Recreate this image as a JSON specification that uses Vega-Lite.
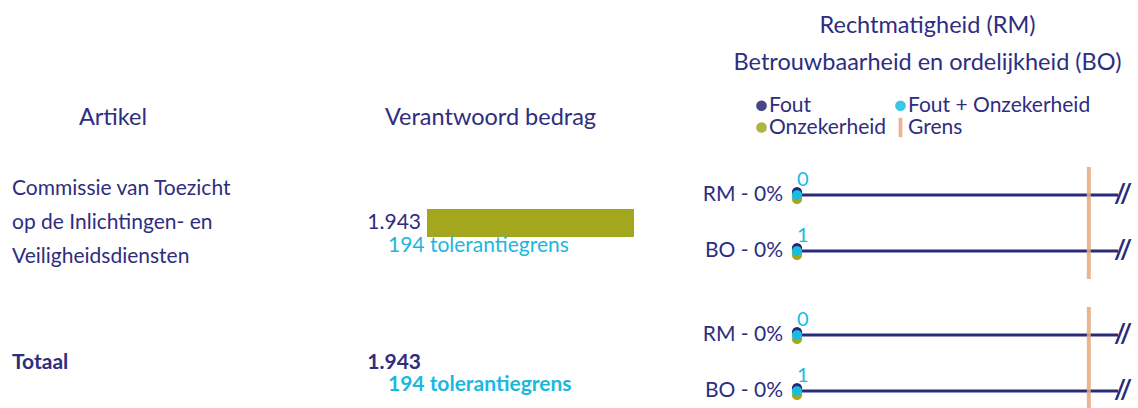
{
  "$schema": "https://vega.github.io/schema/vega-lite/v6.json",
  "background": "white",
  "padding": {"left": 12, "top": 13, "right": 0, "bottom": 0},
  "config": {
    "font": "Lato",
    "view": {"stroke": null},
    "locale": {"number": {"decimal": ",", "thousands": ".", "grouping": [3], "currency": ["€", ""]}},
    "title": {"fontSize": 23.5, "fontWeight": "normal", "color": "#2E2D80", "anchor": "middle"}
  },
  "datasets": {
    "artikelen": [
      {"groep": "Commissie van Toezicht op de Inlichtingen- en Veiligheidsdiensten", "regel": 1, "tekst": "Commissie van Toezicht", "totaal": false},
      {"groep": "Commissie van Toezicht op de Inlichtingen- en Veiligheidsdiensten", "regel": 2, "tekst": "op de Inlichtingen- en", "totaal": false},
      {"groep": "Commissie van Toezicht op de Inlichtingen- en Veiligheidsdiensten", "regel": 3, "tekst": "Veiligheidsdiensten", "totaal": false},
      {"groep": "Totaal", "regel": 2, "tekst": "Totaal", "totaal": true}
    ],
    "bedragen": [
      {"groep": "Commissie van Toezicht op de Inlichtingen- en Veiligheidsdiensten", "bedrag": 1943, "tolerantie": 194, "totaal": false},
      {"groep": "Totaal", "bedrag": 1943, "tolerantie": 194, "totaal": true}
    ],
    "oordelen": [
      {"groep": "Commissie van Toezicht op de Inlichtingen- en Veiligheidsdiensten", "oordeel": "RM", "label": "RM - 0%", "bedrag": 0},
      {"groep": "Commissie van Toezicht op de Inlichtingen- en Veiligheidsdiensten", "oordeel": "BO", "label": "BO - 0%", "bedrag": 1},
      {"groep": "Totaal", "oordeel": "RM", "label": "RM - 0%", "bedrag": 0},
      {"groep": "Totaal", "oordeel": "BO", "label": "BO - 0%", "bedrag": 1}
    ],
    "punten": [
      {"groep": "Commissie van Toezicht op de Inlichtingen- en Veiligheidsdiensten", "oordeel": "RM", "type": "Fout", "waarde": 0},
      {"groep": "Commissie van Toezicht op de Inlichtingen- en Veiligheidsdiensten", "oordeel": "RM", "type": "Onzekerheid", "waarde": 0},
      {"groep": "Commissie van Toezicht op de Inlichtingen- en Veiligheidsdiensten", "oordeel": "RM", "type": "Fout + Onzekerheid", "waarde": 0},
      {"groep": "Commissie van Toezicht op de Inlichtingen- en Veiligheidsdiensten", "oordeel": "BO", "type": "Fout", "waarde": 0},
      {"groep": "Commissie van Toezicht op de Inlichtingen- en Veiligheidsdiensten", "oordeel": "BO", "type": "Onzekerheid", "waarde": 0},
      {"groep": "Commissie van Toezicht op de Inlichtingen- en Veiligheidsdiensten", "oordeel": "BO", "type": "Fout + Onzekerheid", "waarde": 0},
      {"groep": "Totaal", "oordeel": "RM", "type": "Fout", "waarde": 0},
      {"groep": "Totaal", "oordeel": "RM", "type": "Onzekerheid", "waarde": 0},
      {"groep": "Totaal", "oordeel": "RM", "type": "Fout + Onzekerheid", "waarde": 0},
      {"groep": "Totaal", "oordeel": "BO", "type": "Fout", "waarde": 0},
      {"groep": "Totaal", "oordeel": "BO", "type": "Onzekerheid", "waarde": 0},
      {"groep": "Totaal", "oordeel": "BO", "type": "Fout + Onzekerheid", "waarde": 0}
    ],
    "grenzen": [
      {"groep": "Commissie van Toezicht op de Inlichtingen- en Veiligheidsdiensten", "type": "Grens", "grens": 10},
      {"groep": "Totaal", "type": "Grens", "grens": 10}
    ]
  },
  "spacing": 163,
  "bounds": "flush",
  "resolve": {
    "scale": {"color": "independent", "shape": "independent"},
    "legend": {"color": "independent", "shape": "independent"}
  },
  "hconcat": [
    {
      "width": 252,
      "height": 257,
      "title": {"text": "Artikel", "dx": -25, "offset": 24},
      "data": {"name": "artikelen"},
      "encoding": {
        "y": {"field": "groep", "type": "nominal", "axis": null, "sort": null,
              "scale": {"domain": ["Commissie van Toezicht op de Inlichtingen- en Veiligheidsdiensten", "Totaal"], "range": [0, 280], "paddingInner": 0, "paddingOuter": 0}},
        "yOffset": {"field": "regel", "type": "ordinal", "scale": {"type": "point", "domain": [1, 2, 3], "range": [36, 104], "padding": 0}},
        "x": {"value": 0},
        "text": {"field": "tekst"}
      },
      "layer": [
        {"transform": [{"filter": "!datum.totaal"}],
         "mark": {"type": "text", "align": "left", "baseline": "middle", "fontSize": 21, "color": "#2E2D80"}},
        {"transform": [{"filter": "datum.totaal"}],
         "mark": {"type": "text", "align": "left", "baseline": "middle", "fontSize": 21, "fontWeight": "bold", "color": "#2E2D80"}}
      ]
    },
    {
      "width": 207,
      "height": 257,
      "title": {"text": "Verantwoord bedrag", "dx": -40, "offset": 24},
      "data": {"name": "bedragen"},
      "transform": [{"calculate": "format(datum.tolerantie, ',d') + ' tolerantiegrens'", "as": "tolerantieTekst"}],
      "encoding": {
        "y": {"field": "groep", "type": "nominal", "axis": null, "sort": null,
              "scale": {"domain": ["Commissie van Toezicht op de Inlichtingen- en Veiligheidsdiensten", "Totaal"], "range": [0, 280], "paddingInner": 0, "paddingOuter": 0}}
      },
      "layer": [
        {"transform": [{"filter": "!datum.totaal"}],
         "mark": {"type": "bar", "height": 28, "color": "#A4A71E"},
         "encoding": {"x": {"field": "bedrag", "type": "quantitative", "axis": null, "scale": {"nice": false, "zero": true}}}},
        {"transform": [{"filter": "!datum.totaal"}],
         "mark": {"type": "text", "align": "right", "baseline": "middle", "dx": -6, "fontSize": 21, "color": "#2E2D80"},
         "encoding": {"x": {"datum": 0, "type": "quantitative"}, "text": {"field": "bedrag", "type": "quantitative", "format": ",d"}}},
        {"transform": [{"filter": "!datum.totaal"}],
         "mark": {"type": "text", "align": "left", "baseline": "middle", "dx": -39, "dy": 23, "fontSize": 21, "color": "#1AB8DE"},
         "encoding": {"x": {"datum": 0, "type": "quantitative"}, "text": {"field": "tolerantieTekst"}}},
        {"transform": [{"filter": "datum.totaal"}],
         "mark": {"type": "text", "align": "right", "baseline": "middle", "dx": -6, "fontSize": 21, "fontWeight": "bold", "color": "#2E2D80"},
         "encoding": {"x": {"datum": 0, "type": "quantitative"}, "text": {"field": "bedrag", "type": "quantitative", "format": ",d"}}},
        {"transform": [{"filter": "datum.totaal"}],
         "mark": {"type": "text", "align": "left", "baseline": "middle", "dx": -39, "dy": 22, "fontSize": 21, "fontWeight": "bold", "color": "#1AB8DE"},
         "encoding": {"x": {"datum": 0, "type": "quantitative"}, "text": {"field": "tolerantieTekst"}}}
      ]
    },
    {
      "width": 321,
      "height": 257,
      "title": {"text": ["Rechtmatigheid (RM)", "Betrouwbaarheid en ordelijkheid (BO)"], "lineHeight": 37, "dx": -30, "offset": 21},
      "encoding": {
        "y": {"field": "groep", "type": "nominal", "axis": null, "sort": null,
              "scale": {"domain": ["Commissie van Toezicht op de Inlichtingen- en Veiligheidsdiensten", "Totaal"], "range": [0, 280], "paddingInner": 0, "paddingOuter": 0}}
      },
      "resolve": {"scale": {"yOffset": "independent"}},
      "layer": [
        {"data": {"name": "oordelen"},
         "mark": {"type": "rule", "color": "#2A2A7A", "strokeWidth": 3},
         "encoding": {
           "yOffset": {"field": "oordeel", "type": "nominal", "scale": {"type": "point", "domain": ["RM", "BO"], "range": [42, 98], "padding": 0}}
         }},
        {"data": {"name": "grenzen"},
         "mark": {"type": "tick", "orient": "vertical", "size": 112, "thickness": 4, "opacity": 0.85, "clip": true},
         "encoding": {
           "x": {"field": "grens", "type": "quantitative", "axis": null, "scale": {"domain": [0, 11], "nice": false}},
           "color": {"field": "type", "type": "nominal"}
         }},
        {"data": {"name": "oordelen"},
         "mark": {"type": "text", "text": "//", "align": "center", "baseline": "middle", "dx": 5, "fontSize": 26, "fontWeight": "bold", "color": "#2A2A7A"},
         "encoding": {
           "x": {"datum": 11, "type": "quantitative"},
           "yOffset": {"field": "oordeel", "type": "nominal", "scale": {"type": "point", "domain": ["RM", "BO"], "range": [42, 98], "padding": 0}}
         }},
        {"data": {"name": "oordelen"},
         "mark": {"type": "text", "align": "right", "baseline": "middle", "dx": -14, "fontSize": 21, "color": "#2E2D80"},
         "encoding": {
           "x": {"datum": 0, "type": "quantitative"},
           "yOffset": {"field": "oordeel", "type": "nominal", "scale": {"type": "point", "domain": ["RM", "BO"], "range": [42, 98], "padding": 0}},
           "text": {"field": "label"}
         }},
        {"data": {"name": "punten"},
         "transform": [{"filter": "datum.type === 'Onzekerheid'"}],
         "mark": {"type": "point", "filled": true, "size": 105, "opacity": 1},
         "encoding": {
           "x": {"field": "waarde", "type": "quantitative"},
           "yOffset": {"field": "oordeel", "type": "nominal", "scale": {"type": "point", "domain": ["RM", "BO"], "range": [46, 102], "padding": 0}},
           "color": {"field": "type", "type": "nominal",
             "scale": {"domain": ["Fout", "Fout + Onzekerheid", "Onzekerheid", "Grens"], "range": ["#262672", "#1ABBE0", "#A4A71E", "#E4AA7E"]},
             "legend": {"orient": "none", "legendX": -46, "legendY": -58, "direction": "horizontal", "columns": 2, "title": null, "labelFontSize": 21, "labelColor": "#2E2D80", "labelLimit": 400, "symbolStrokeWidth": 0, "symbolSize": 115, "labelOffset": -3, "columnPadding": 3, "rowPadding": 0, "padding": 0}},
           "shape": {"field": "type", "type": "nominal",
             "scale": {"domain": ["Fout", "Fout + Onzekerheid", "Onzekerheid", "Grens"], "range": ["circle", "circle", "circle", "M-0.35,-1.8H0.35V1.8H-0.35Z"]}}
         }},
        {"data": {"name": "punten"},
         "transform": [{"filter": "datum.type === 'Fout'"}],
         "mark": {"type": "point", "filled": true, "size": 105, "opacity": 1},
         "encoding": {
           "x": {"field": "waarde", "type": "quantitative"},
           "yOffset": {"field": "oordeel", "type": "nominal", "scale": {"type": "point", "domain": ["RM", "BO"], "range": [39, 95], "padding": 0}},
           "color": {"field": "type", "type": "nominal"},
           "shape": {"field": "type", "type": "nominal"}
         }},
        {"data": {"name": "punten"},
         "transform": [{"filter": "datum.type === 'Fout + Onzekerheid'"}],
         "mark": {"type": "point", "filled": true, "size": 105, "opacity": 1},
         "encoding": {
           "x": {"field": "waarde", "type": "quantitative"},
           "yOffset": {"field": "oordeel", "type": "nominal", "scale": {"type": "point", "domain": ["RM", "BO"], "range": [42, 98], "padding": 0}},
           "color": {"field": "type", "type": "nominal"},
           "shape": {"field": "type", "type": "nominal"}
         }},
        {"data": {"name": "oordelen"},
         "mark": {"type": "text", "align": "left", "baseline": "middle", "dx": 0, "dy": -15, "fontSize": 20, "color": "#1ABBE0"},
         "encoding": {
           "x": {"datum": 0, "type": "quantitative"},
           "yOffset": {"field": "oordeel", "type": "nominal", "scale": {"type": "point", "domain": ["RM", "BO"], "range": [42, 98], "padding": 0}},
           "text": {"field": "bedrag", "type": "quantitative"}
         }}
      ]
    }
  ]
}
